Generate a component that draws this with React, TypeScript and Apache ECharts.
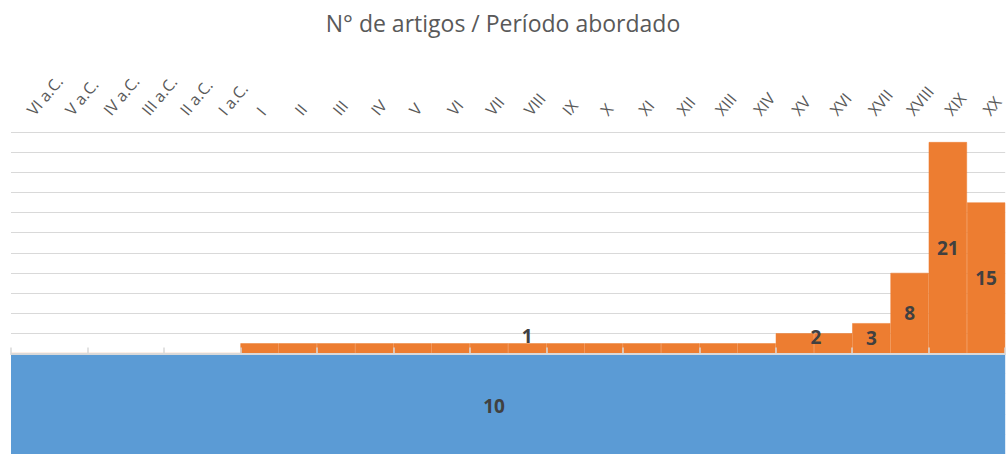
import React, { useEffect, useRef } from "react";
import * as echarts from "echarts";

const categories = [
  "VI a.C.", "V a.C.", "IV a.C.", "III a.C.", "II a.C.", "I a.C.",
  "I", "II", "III", "IV", "V", "VI", "VII", "VIII", "IX", "X",
  "XI", "XII", "XIII", "XIV", "XV", "XVI", "XVII", "XVIII", "XIX", "XX",
];
// Nº de artigos por período (laranja)
const articles = [0, 0, 0, 0, 0, 0, 1, 1, 1, 1, 1, 1, 1, 1, 1, 1, 1, 1, 1, 1, 2, 2, 3, 8, 21, 15];
// Artigos sem período definido (azul, desenhado abaixo de zero)
const undefinedCategory = ["Sem período"];
const undefinedValues = [-10];
// which orange bars carry a visible label
const labelledIndex = [13, 20, 22, 23, 24, 25];

export default function App() {
  const ref = useRef<HTMLDivElement>(null);
  useEffect(() => {
    if (!ref.current) return;
    const chart = echarts.init(ref.current, undefined, { renderer: "svg" });
    const labelFont = {
      fontFamily: "Open Sans",
      fontSize: 19,
      fontWeight: "bold" as const,
      color: "#404040",
    };
    const orangeData = articles.map((v, i) => {
      if (!labelledIndex.includes(i)) return { value: v, label: { show: false } };
      let offset: number[] = [0, 0];
      if (v === 1) offset = [0, -12];
      if (i === 20) offset = [21, -6];
      return { value: v, label: { show: true, offset, formatter: String(v) } };
    });
    const blueData = undefinedValues.map((v) => ({
      value: v,
      label: { show: true, offset: [-14, 2], formatter: String(Math.abs(v)) },
    }));
    chart.setOption({
      animation: false,
      title: {
        text: "N° de artigos / Período abordado",
        left: "center",
        top: 6,
        textStyle: {
          fontFamily: "Open Sans",
          fontSize: 23,
          fontWeight: "normal",
          color: "#595959",
        },
      },
      grid: { left: 11, right: 0, top: 132, bottom: 0, containLabel: false },
      xAxis: [
        {
          type: "category",
          data: categories,
          position: "bottom",
          z: 10,
          axisLine: { show: true, onZero: true, lineStyle: { color: "#d9d9d9", width: 2 } },
          axisTick: { show: true, inside: true, length: 6, lineStyle: { color: "#d9d9d9", width: 1.5 } },
          axisLabel: { show: false },
          splitLine: { show: false },
        },
        {
          type: "category",
          data: categories,
          position: "top",
          axisLine: { show: false, onZero: false },
          axisTick: { show: false },
          axisLabel: {
            show: true,
            interval: 0,
            rotate: -50,
            margin: 19,
            fontFamily: "Open Sans",
            fontSize: 16,
            color: "#595959",
          },
          splitLine: { show: false },
        },
        {
          type: "category",
          data: undefinedCategory,
          position: "bottom",
          show: false,
          axisLine: { show: false, onZero: false },
        },
      ],
      yAxis: {
        type: "value",
        min: -10,
        max: 22,
        interval: 2,
        axisLine: { show: false },
        axisTick: { show: false },
        axisLabel: { show: false },
        splitLine: { show: true, lineStyle: { color: "#d9d9d9", width: 1 } },
      },
      series: [
        {
          name: "Sem período",
          type: "bar",
          xAxisIndex: 2,
          data: blueData,
          barWidth: "100%",
          itemStyle: { color: "#5b9bd5" },
          label: { position: "inside", ...labelFont },
        },
        {
          name: "Artigos",
          type: "bar",
          xAxisIndex: 0,
          data: orangeData,
          barCategoryGap: 0,
          itemStyle: { color: "#ed7d31", borderColor: "#ed7d31", borderWidth: 0.5 },
          label: { position: "inside", ...labelFont },
        },
      ],
    });
    return () => chart.dispose();
  }, []);
  return (
    <div
      ref={ref}
      style={{ position: "fixed", left: 0, top: 0, width: 1006, height: 454, background: "#fff" }}
    />
  );
}
